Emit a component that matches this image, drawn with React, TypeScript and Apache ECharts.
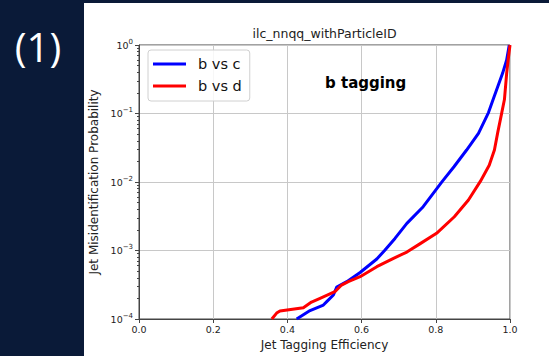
import React, { useEffect, useRef } from "react";
import * as echarts from "echarts";

const chartTitle = "ilc_nnqq_withParticleID";
const xAxisName = "Jet Tagging Efficiency";
const yAxisName = "Jet Misidentification Probability";
const annotation = "b tagging";
const panelLabel = "(1)";
const seriesNames = ["b vs c", "b vs d"];
const xTicks = [0, 0.2, 0.4, 0.6, 0.8, 1.0];

// [efficiency, misidentification probability]
const bVsC: [number, number][] = [
  [0.425, 1.0e-4], [0.461, 1.33e-4], [0.497, 1.6e-4], [0.506, 1.79e-4],
  [0.524, 2.24e-4], [0.533, 2.93e-4], [0.56, 3.51e-4], [0.596, 4.77e-4],
  [0.641, 7.52e-4], [0.662, 1.0e-3], [0.69, 1.5e-3], [0.722, 2.49e-3],
  [0.766, 4.36e-3], [0.818, 1.03e-2], [0.849, 1.67e-2],
  [0.883, 2.93e-2], [0.915, 5.14e-2], [0.942, 1.03e-1], [0.954, 1.57e-1],
  [0.98, 3.86e-1], [0.991, 6.04e-1], [0.998, 1.0],
];
const bVsD: [number, number][] = [
  [0.358, 1.0e-4], [0.371, 1.22e-4], [0.38, 1.31e-4], [0.443, 1.46e-4],
  [0.465, 1.77e-4], [0.488, 2.0e-4], [0.528, 2.5e-4], [0.546, 3.13e-4],
  [0.564, 3.51e-4], [0.596, 4.15e-4], [0.641, 5.8e-4], [0.686, 7.69e-4],
  [0.722, 9.5e-4], [0.757, 1.25e-3], [0.802, 1.78e-3],
  [0.85, 3.11e-3], [0.888, 5.46e-3], [0.92, 1.02e-2], [0.944, 1.75e-2],
  [0.958, 2.93e-2], [0.967, 5.3e-2], [0.978, 1.04e-1], [0.985, 1.6e-1],
  [0.991, 3.86e-1], [0.995, 6.04e-1], [1.0, 1.0],
];
const yDecades = [-4, -3, -2, -1, 0];

export default function App() {
  const ref = useRef<HTMLDivElement>(null);
  useEffect(() => {
    if (!ref.current) return;
    const chart = echarts.init(ref.current, null, { renderer: "svg" });
    const font = "DejaVu Sans";
    const minorVals: number[] = [];
    for (let i = 0; i < yDecades.length - 1; i++) {
      for (let k = 2; k <= 9; k++) minorVals.push(k * Math.pow(10, yDecades[i]));
    }
    const gridL = 139, gridT = 45, gridW = 371, gridH = 274;
    chart.setOption({
      animation: false,
      backgroundColor: "#0a1a38",
      graphic: [
        { type: "rect", shape: { x: 84, y: 3, width: 465, height: 353 }, style: { fill: "#ffffff" }, z: -10 },
        { type: "text", x: 38, y: 46, style: { text: panelLabel, fill: "#ffffff", font: "40px 'Open Sans'", textAlign: "center", textVerticalAlign: "middle" } },
        { type: "text", x: gridL + gridW / 2, y: 33, style: { text: chartTitle, fill: "#222", font: `12.5px '${font}'`, textAlign: "center", textVerticalAlign: "middle" } },
        { type: "text", x: 325, y: 83, z: 10, style: { text: annotation, fill: "#000", font: `bold 15px '${font}'`, textAlign: "left", textVerticalAlign: "middle" } },
      ],
      grid: { left: gridL, top: gridT, width: gridW, height: gridH, show: true, borderColor: "#444", borderWidth: 1, backgroundColor: "transparent" },
      legend: {
        left: 148, top: 50, orient: "vertical", icon: "rect", itemWidth: 33, itemHeight: 3, itemGap: 6,
        padding: [6, 8, 7, 5], borderColor: "#d0d0d0", borderWidth: 1, borderRadius: 3, backgroundColor: "rgba(255,255,255,0.85)",
        textStyle: { fontFamily: font, fontSize: 14.5, color: "#111", lineHeight: 16, padding: [0, 0, 0, 7] },
        data: seriesNames,
      },
      xAxis: {
        type: "value", min: 0, max: 1, interval: 0.2,
        name: xAxisName, nameLocation: "middle", nameGap: 20,
        nameTextStyle: { fontFamily: font, fontSize: 12, color: "#222" },
        axisLine: { show: true, lineStyle: { color: "#444", width: 1 } },
        axisTick: { show: true, inside: false, length: 4, lineStyle: { color: "#444" }, customValues: xTicks },
        axisLabel: { fontFamily: font, fontSize: 9.5, color: "#222", margin: 5, formatter: (v: number) => v.toFixed(1), customValues: xTicks },
        splitLine: { show: true, lineStyle: { color: "#c8c8c8", width: 1 } },
      },
      yAxis: [
        {
          type: "log", logBase: 10, min: 1e-4, max: 1,
          name: yAxisName, nameLocation: "middle", nameGap: 37, nameRotate: 90,
          nameTextStyle: { fontFamily: font, fontSize: 12, color: "#222" },
          axisLine: { show: true, lineStyle: { color: "#444", width: 1 } },
          axisTick: { show: true, inside: false, length: 4, lineStyle: { color: "#444" } },
          axisLabel: {
            margin: 6, color: "#222",
            formatter: (v: number) => {
              const e = Math.round(Math.log10(v));
              return `{b|10}{s|${e < 0 ? "\u2212" + -e : e}}`;
            },
            rich: {
              b: { fontFamily: font, fontSize: 9.5, color: "#222" },
              s: { fontFamily: font, fontSize: 7, color: "#222", padding: [0, 0, 7, 0] },
            },
          },
          splitLine: { show: true, lineStyle: { color: "#c8c8c8", width: 1 } },
        },
        {
          type: "log", logBase: 10, min: 1e-4, max: 1, position: "left",
          axisLine: { show: false },
          axisTick: { show: true, inside: false, length: 2, lineStyle: { color: "#444" }, customValues: minorVals },
          axisLabel: { show: false },
          splitLine: { show: false },
        },
      ],
      series: [
        { name: seriesNames[0], type: "line", data: bVsC, showSymbol: false, symbol: "none", lineStyle: { color: "#0000ff", width: 3, join: "round" }, itemStyle: { color: "#0000ff" }, z: 3 },
        { name: seriesNames[1], type: "line", data: bVsD, showSymbol: false, symbol: "none", lineStyle: { color: "#ff0000", width: 3, join: "round" }, itemStyle: { color: "#ff0000" }, z: 4 },
      ],
    });
    return () => chart.dispose();
  }, []);
  return <div ref={ref} style={{ position: "fixed", left: 0, top: 0, width: 549, height: 356 }} />;
}
